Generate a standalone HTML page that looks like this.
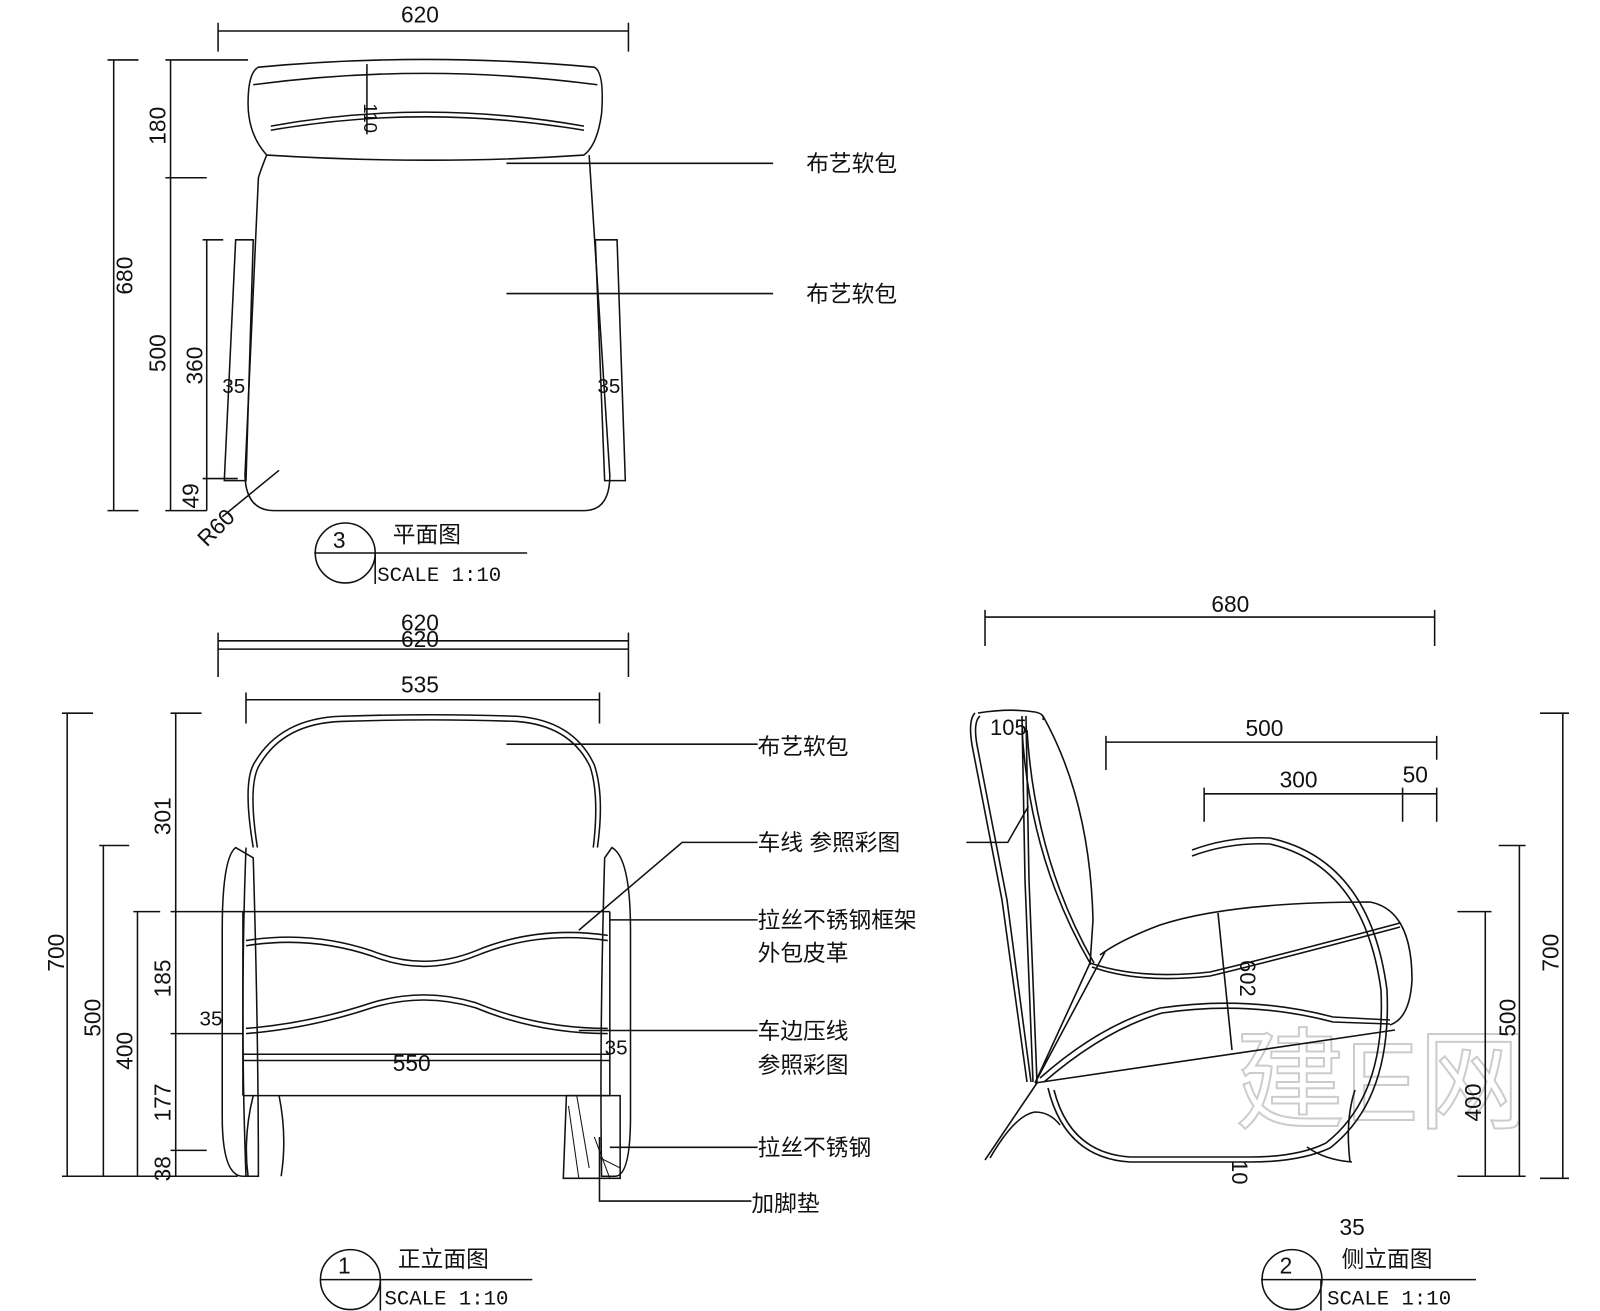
<!DOCTYPE html>
<html><head><meta charset="utf-8"><style>
html,body{margin:0;padding:0;background:#fff}
svg{display:block}
text{font-family:"Liberation Sans","Noto Sans CJK SC",sans-serif;fill:#111}
.m{font-family:"Liberation Mono",monospace}
</style></head><body>
<svg width="1600" height="1311" viewBox="0 0 1600 1311" xmlns="http://www.w3.org/2000/svg">
<rect width="1600" height="1311" fill="#fff"/>
<!-- watermark -->
<text x="1235" y="1120" font-size="110" fill="none" stroke="#ccc" stroke-width="2" style="fill:none">建E网</text>
<g transform="scale(1.0336)" fill="none" stroke="#111" stroke-width="1.5">
<!-- PLAN -->
<path d="M211,30H608M211,22V50M608,22V50"/>
<text x="388" y="22" font-size="22" stroke="none">620</text>
<path d="M110,58V494M104,58H134M104,494H134"/>
<path d="M165,58V494M160,58H240M160,172H200M160,494H200"/>
<path d="M200,232V494M196,232H216M196,463H230"/>
<text transform="translate(128,285) rotate(-90)" font-size="22" stroke="none">680</text>
<text transform="translate(160,140) rotate(-90)" font-size="22" stroke="none">180</text>
<text transform="translate(160,360) rotate(-90)" font-size="22" stroke="none">500</text>
<text transform="translate(196,372) rotate(-90)" font-size="22" stroke="none">360</text>
<text transform="translate(192,492) rotate(-90)" font-size="22" stroke="none">49</text>
<text transform="translate(200,530) rotate(-45)" font-size="22" stroke="none">R60</text>
<path d="M215,500L270,455"/>
<text x="215" y="380" font-size="20" stroke="none">35</text>
<text x="578" y="380" font-size="20" stroke="none">35</text>
<path d="M250,65Q410,50 575,65Q585,70 582,110Q578,140 565,150Q420,160 258,150Q240,130 240,100Q240,70 250,65Z"/>
<path d="M245,82Q410,60 578,82"/>
<path d="M262,122Q410,95 565,122M262,126Q410,100 565,126"/>
<path d="M355,62V130"/>
<text transform="translate(352,100) rotate(90)" font-size="18" stroke="none">110</text>
<path d="M258,150Q252,165 250,172L237,460Q238,494 265,494H565Q590,494 590,460L570,150"/>
<path d="M228,232H245L238,465H217Z"/>
<path d="M576,232H597L605,465H585Z"/>
<path d="M490,158H748M490,284H748"/>
<text x="780" y="166" font-size="22" stroke="none">布艺软包</text>
<text x="780" y="292" font-size="22" stroke="none">布艺软包</text>
<circle cx="334" cy="535" r="29"/>
<path d="M304,535H510M363,535V565"/>
<text x="322" y="530" font-size="22" stroke="none">3</text>
<text x="380" y="525" font-size="22" stroke="none">平面图</text>
<text x="365" y="562" font-size="20" class="m" stroke="none">SCALE 1:10</text>

<!-- FRONT -->
<path d="M211,620H608M211,628H608M211,612V655M608,612V655"/>
<text x="388" y="610" font-size="22" stroke="none">620</text>
<text x="388" y="626" font-size="22" stroke="none">620</text>
<path d="M238,677H580M238,670V700M580,670V700"/>
<text x="388" y="670" font-size="22" stroke="none">535</text>
<path d="M65,690V1138M60,690H90M60,1138H230"/>
<path d="M100,818V1138M96,818H125"/>
<path d="M133,882V1138M129,882H155"/>
<path d="M170,690V1138M165,690H195M165,882H235M165,1000H235M165,1113H200"/>
<text transform="translate(62,940) rotate(-90)" font-size="22" stroke="none">700</text>
<text transform="translate(97,1003) rotate(-90)" font-size="22" stroke="none">500</text>
<text transform="translate(128,1035) rotate(-90)" font-size="22" stroke="none">400</text>
<text transform="translate(165,808) rotate(-90)" font-size="22" stroke="none">301</text>
<text transform="translate(165,965) rotate(-90)" font-size="22" stroke="none">185</text>
<text transform="translate(165,1085) rotate(-90)" font-size="22" stroke="none">177</text>
<text transform="translate(165,1143) rotate(-90)" font-size="22" stroke="none">38</text>
<path d="M245,820Q235,760 245,740Q270,695 330,693Q420,690 500,693Q555,697 575,740Q585,770 578,820"/>
<path d="M249,820Q240,762 250,742Q273,700 330,698Q420,695 500,698Q552,702 571,742Q580,770 574,820"/>
<path d="M228,820Q215,830 215,900L215,1080Q215,1138 235,1138H250Q250,1000 245,830Z"/>
<path d="M238,820Q232,980 238,1138"/>
<path d="M592,820Q610,830 610,900V1080Q610,1138 595,1138H582Q580,1000 585,830Z"/>
<path d="M235,882H590M235,1060H590M235,882V1060M590,882V1060"/>
<path d="M238,910Q300,900 360,920Q410,940 460,920Q520,895 588,905"/>
<path d="M238,915Q300,905 360,925Q410,945 460,925Q520,900 588,910"/>
<path d="M238,995Q300,990 360,970Q410,955 460,970Q520,995 588,995"/>
<path d="M238,1000Q300,995 360,975Q410,960 460,975Q520,1000 588,1000"/>
<path d="M235,1020H590M235,1026H590"/>
<text x="380" y="1036" font-size="22" stroke="none">550</text>
<text x="193" y="992" font-size="20" stroke="none">35</text>
<text x="585" y="1020" font-size="20" stroke="none">35</text>
<path d="M245,1060Q235,1100 240,1138M270,1060Q278,1100 272,1138"/>
<path d="M548,1060H600V1140H545Z"/>
<path d="M550,1070L560,1140M558,1060L570,1130M575,1100L590,1140M580,1120L600,1130" stroke-width="1"/>
<path d="M490,720H733M560,900L660,815H733M590,890H733M560,997H733M590,1110H733M580,1100V1162H727"/>
<text x="733" y="730" font-size="22" stroke="none">布艺软包</text>
<text x="733" y="823" font-size="22" stroke="none">车线 参照彩图</text>
<text x="733" y="898" font-size="22" stroke="none">拉丝不锈钢框架</text>
<text x="733" y="930" font-size="22" stroke="none">外包皮革</text>
<text x="733" y="1005" font-size="22" stroke="none">车边压线</text>
<text x="733" y="1038" font-size="22" stroke="none">参照彩图</text>
<text x="733" y="1118" font-size="22" stroke="none">拉丝不锈钢</text>
<text x="727" y="1172" font-size="22" stroke="none">加脚垫</text>
<circle cx="339" cy="1238" r="29"/>
<path d="M310,1238H515M368,1238V1268"/>
<text x="327" y="1232" font-size="22" stroke="none">1</text>
<text x="385" y="1226" font-size="22" stroke="none">正立面图</text>
<text x="372" y="1262" font-size="20" class="m" stroke="none">SCALE 1:10</text>

<!-- SIDE dims -->
<path d="M953,597H1388M953,590V625M1388,590V625"/>
<text x="1172" y="592" font-size="22" stroke="none">680</text>
<path d="M1070,718H1390M1070,712V745M1390,712V735"/>
<text x="1205" y="712" font-size="22" stroke="none">500</text>
<path d="M1165,768H1390M1165,762V795M1357,762V795M1390,762V795"/>
<text x="1238" y="762" font-size="22" stroke="none">300</text>
<text x="1357" y="757" font-size="22" stroke="none">50</text>
<path d="M1512,690V1140M1490,690H1518M1490,1140H1518"/>
<path d="M1470,818V1138M1450,818H1476M1440,1138H1476"/>
<path d="M1437,882V1138M1410,882H1443M1410,1138H1443"/>
<text transform="translate(1508,940) rotate(-90)" font-size="22" stroke="none">700</text>
<text transform="translate(1466,1003) rotate(-90)" font-size="22" stroke="none">500</text>
<text transform="translate(1433,1085) rotate(-90)" font-size="22" stroke="none">400</text>
<path d="M935,815H975L995,780"/>
<circle cx="1250" cy="1238" r="29"/>
<path d="M1220,1238H1428M1278,1238V1268"/>
<text x="1238" y="1232" font-size="22" stroke="none">2</text>
<text x="1298" y="1226" font-size="22" stroke="none">侧立面图</text>
<text x="1284" y="1262" font-size="20" class="m" stroke="none">SCALE 1:10</text>
<text x="1296" y="1195" font-size="22" stroke="none">35</text>
</g>

<!-- SIDE chair (original coords) -->
<g fill="none" stroke="#111" stroke-width="1.6">
<path d="M978,713Q1010,708 1035,712Q1045,714 1043,720"/>
<path d="M975,713Q968,720 972,745L1002,900Q1016,1000 1027,1082"/>
<path d="M980,716Q973,722 977,745L1007,900Q1020,1000 1031,1082"/>
<path d="M1022,716L1025,880Q1030,1000 1033,1082"/>
<path d="M1026,716L1029,880Q1034,1000 1037,1082"/>
<path d="M1022,730Q1030,860 1090,963"/>
<path d="M1027,730Q1035,860 1094,963"/>
<path d="M1043,716Q1090,800 1093,920L1090,965"/>
<path d="M1100,955Q1120,940 1160,925Q1230,902 1370,902Q1412,910 1412,980Q1410,1018 1390,1025"/>
<path d="M1090,963Q1140,980 1210,972Q1280,955 1400,923"/>
<path d="M1092,967Q1140,984 1210,976Q1280,959 1400,927"/>
<path d="M1040,1078Q1100,1025 1160,1008Q1250,995 1333,1017L1390,1020"/>
<path d="M1044,1082Q1104,1030 1162,1013Q1250,1000 1333,1022L1390,1024"/>
<path d="M1035,1083L1395,1030"/>
<path d="M1035,1083L1090,963M1035,1083L1105,952"/>
<path d="M1192,850Q1230,836 1270,838Q1370,860 1387,990Q1392,1100 1330,1148Q1300,1162 1250,1162H1130Q1065,1158 1048,1088"/>
<path d="M1192,856Q1230,842 1270,844Q1364,866 1381,990Q1386,1096 1326,1143Q1298,1157 1250,1157H1130Q1070,1153 1054,1090"/>
<path d="M1037,1083L985,1160"/>
<path d="M990,1158Q1015,1115 1035,1112Q1050,1112 1060,1125"/>
<path d="M1307,1147Q1325,1160 1352,1162M1350,1162Q1345,1120 1355,1090"/>
<path d="M1218,913L1232,1050"/>
<text transform="translate(1240,960) rotate(90)" font-size="22" stroke="none" fill="#111">602</text>
<text transform="translate(1232,1160) rotate(90)" font-size="22" stroke="none" fill="#111">10</text>
<text x="990" y="735" font-size="22" stroke="none" fill="#111">105</text>
</g>
</svg>
</body></html>
